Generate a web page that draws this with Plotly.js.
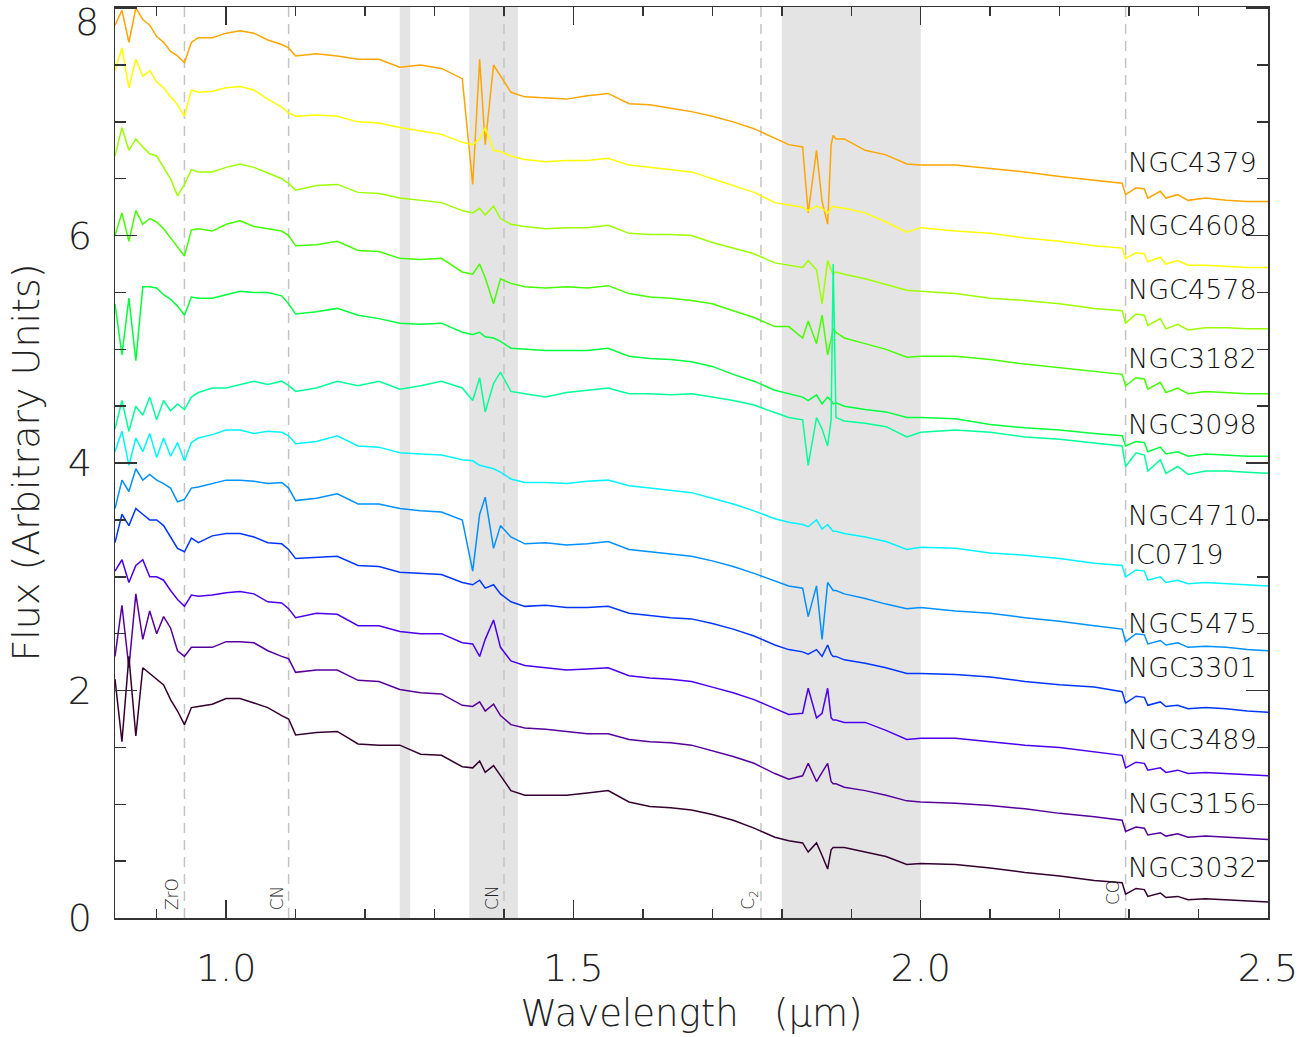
<!DOCTYPE html>
<html>
<head>
<meta charset="utf-8">
<script src="https://cdn.plot.ly/plotly-3.0.1.min.js"></script>
<style>html,body{margin:0;padding:0;background:#fff;}</style>
</head>
<body>
<div id="chart" style="width:1315px;height:1037px;"></div>
<script>
// Wavelength grid (micron)
const wavelength = [
0.84,0.85,0.86,0.87,0.88,0.89,0.90,0.91,0.92,0.93,0.94,0.95,0.96,
0.98,1.00,1.02,1.04,1.06,1.08,1.09,1.10,1.13,1.16,1.19,1.22,1.25,1.28,1.31,1.34,
1.355,1.365,1.373,1.385,1.395,
1.41,1.43,1.46,1.49,1.52,1.55,1.58,1.61,1.64,1.67,1.70,1.73,1.76,1.79,1.81,
1.83,1.838,1.85,1.858,1.866,1.871,1.874,1.878,
1.89,1.92,1.95,1.98,2.00,2.05,2.10,2.15,2.20,2.25,
2.29,2.295,2.31,2.322,2.327,2.345,2.353,2.37,2.385,2.41,2.44,2.47,2.50];

const fluxNGC4379 = [
7.85,7.98,7.70,8.00,7.90,7.85,7.75,7.70,7.62,7.58,7.52,7.70,7.74,
7.74,7.78,7.80,7.78,7.72,7.68,7.65,7.58,7.60,7.58,7.55,7.55,7.48,7.50,7.47,7.38,
6.45,7.55,6.80,7.50,7.40,
7.26,7.22,7.21,7.20,7.23,7.25,7.16,7.15,7.12,7.09,7.05,7.00,6.94,6.86,6.80,
6.78,6.20,6.75,6.30,6.10,6.80,6.88,6.85,
6.85,6.75,6.71,6.63,6.62,6.62,6.59,6.56,6.52,6.49,
6.46,6.36,6.42,6.41,6.33,6.39,6.33,6.36,6.31,6.33,6.31,6.30,6.30];
const fluxNGC4608 = [
7.45,7.65,7.30,7.55,7.40,7.45,7.35,7.30,7.22,7.15,7.05,7.28,7.26,
7.27,7.30,7.31,7.28,7.20,7.13,7.08,7.05,7.06,7.05,7.00,6.99,6.95,6.92,6.89,6.82,
6.80,6.85,6.95,6.75,6.74,
6.70,6.67,6.65,6.66,6.66,6.68,6.62,6.60,6.58,6.56,6.50,6.44,6.38,6.29,6.27,
6.25,6.22,6.26,6.24,6.20,6.24,6.26,6.25,
6.24,6.20,6.12,6.03,6.07,6.04,6.02,5.98,5.95,5.91,
5.89,5.80,5.85,5.84,5.77,5.81,5.75,5.78,5.74,5.74,5.73,5.72,5.72];
const fluxNGC4578 = [
6.70,6.95,6.75,6.85,6.78,6.72,6.70,6.60,6.50,6.35,6.45,6.58,6.56,
6.56,6.60,6.63,6.60,6.55,6.50,6.46,6.40,6.44,6.45,6.38,6.37,6.33,6.31,6.29,6.22,
6.20,6.24,6.18,6.26,6.15,
6.10,6.08,6.06,6.07,6.07,6.09,6.02,6.01,6.01,6.00,5.94,5.89,5.84,5.76,5.74,
5.72,5.78,5.70,5.40,5.78,5.70,5.66,5.68,
5.66,5.62,5.57,5.52,5.51,5.49,5.45,5.43,5.40,5.36,
5.34,5.23,5.31,5.30,5.21,5.27,5.18,5.22,5.17,5.19,5.19,5.18,5.18];
const fluxNGC3182 = [
6.00,6.20,5.95,6.22,6.10,6.15,6.12,6.06,5.98,5.90,5.82,6.05,6.06,
6.04,6.10,6.13,6.08,6.06,6.04,6.00,5.91,5.92,5.95,5.87,5.86,5.80,5.79,5.80,5.68,
5.66,5.75,5.63,5.40,5.62,
5.58,5.55,5.54,5.55,5.54,5.56,5.49,5.46,5.45,5.43,5.40,5.34,5.28,5.20,5.20,
5.10,5.25,5.05,5.30,4.95,5.10,5.18,5.15,
5.10,5.05,5.00,4.93,4.94,4.94,4.91,4.87,4.84,4.81,
4.78,4.68,4.75,4.74,4.65,4.71,4.62,4.66,4.61,4.63,4.62,4.61,4.61];
const fluxNGC3098 = [
5.40,4.95,5.45,4.90,5.55,5.55,5.54,5.48,5.44,5.38,5.30,5.46,5.45,
5.45,5.48,5.51,5.50,5.50,5.47,5.40,5.31,5.33,5.36,5.30,5.27,5.23,5.22,5.23,5.15,
5.13,5.15,5.11,5.10,5.07,
5.01,5.00,4.99,4.99,4.99,5.01,4.94,4.92,4.91,4.89,4.85,4.78,4.72,4.64,4.61,
4.58,4.55,4.60,4.52,4.58,4.55,4.52,4.53,
4.50,4.47,4.45,4.40,4.40,4.39,4.34,4.31,4.29,4.26,
4.24,4.15,4.19,4.18,4.10,4.14,4.08,4.10,4.06,4.08,4.07,4.06,4.06];
const fluxNGC4710 = [
4.30,4.55,4.28,4.50,4.42,4.58,4.38,4.55,4.46,4.52,4.47,4.58,4.62,
4.66,4.66,4.69,4.72,4.69,4.72,4.68,4.63,4.66,4.72,4.68,4.72,4.65,4.68,4.72,4.66,
4.55,4.75,4.45,4.70,4.80,
4.63,4.61,4.58,4.62,4.64,4.66,4.61,4.61,4.60,4.61,4.58,4.55,4.51,4.44,4.40,
4.38,3.98,4.40,4.30,4.15,4.38,5.75,4.40,
4.37,4.35,4.32,4.23,4.27,4.29,4.27,4.23,4.21,4.18,
4.15,3.97,4.09,4.07,3.93,4.03,3.91,3.97,3.90,3.93,3.93,3.92,3.91];
const fluxIC0719 = [
4.10,4.28,3.98,4.22,4.10,4.26,4.05,4.22,4.06,4.18,4.02,4.18,4.22,
4.25,4.29,4.29,4.26,4.28,4.27,4.24,4.17,4.19,4.24,4.15,4.14,4.09,4.08,4.07,4.03,
4.02,3.98,3.97,3.95,3.92,
3.86,3.83,3.83,3.82,3.84,3.85,3.80,3.78,3.76,3.74,3.69,3.64,3.58,3.51,3.48,
3.46,3.44,3.50,3.42,3.46,3.42,3.40,3.40,
3.38,3.35,3.31,3.24,3.26,3.25,3.21,3.19,3.16,3.12,
3.10,3.00,3.06,3.05,2.97,3.00,2.95,2.97,2.94,2.95,2.94,2.93,2.92];
const fluxNGC5475 = [
3.60,3.85,3.75,3.95,3.85,3.90,3.85,3.82,3.78,3.66,3.68,3.78,3.79,
3.82,3.85,3.85,3.84,3.82,3.83,3.78,3.67,3.69,3.73,3.64,3.64,3.60,3.58,3.57,3.50,
3.05,3.55,3.70,3.25,3.45,
3.35,3.29,3.30,3.28,3.29,3.31,3.24,3.22,3.20,3.18,3.14,3.09,3.03,2.96,2.92,
2.90,2.65,2.92,2.45,2.95,2.90,2.88,2.88,
2.85,2.81,2.76,2.72,2.73,2.70,2.68,2.64,2.61,2.57,
2.54,2.43,2.50,2.49,2.41,2.44,2.40,2.42,2.38,2.39,2.38,2.36,2.35];
const fluxNGC3301 = [
3.30,3.55,3.45,3.60,3.55,3.50,3.50,3.45,3.35,3.25,3.22,3.34,3.30,
3.36,3.38,3.38,3.35,3.30,3.29,3.24,3.16,3.17,3.18,3.10,3.09,3.04,3.03,3.02,2.95,
2.93,2.97,2.90,2.93,2.85,
2.78,2.74,2.75,2.73,2.73,2.74,2.68,2.66,2.64,2.63,2.59,2.54,2.48,2.40,2.36,
2.34,2.32,2.36,2.30,2.40,2.32,2.30,2.30,
2.27,2.24,2.20,2.15,2.15,2.14,2.12,2.08,2.05,2.03,
1.99,1.89,1.95,1.94,1.87,1.90,1.86,1.87,1.84,1.85,1.84,1.82,1.81];
const fluxNGC3489 = [
3.05,3.15,2.95,3.10,3.15,3.00,3.00,2.97,2.88,2.80,2.74,2.84,2.83,
2.84,2.86,2.87,2.85,2.78,2.77,2.72,2.64,2.68,2.67,2.57,2.57,2.52,2.50,2.50,2.42,
2.41,2.30,2.45,2.62,2.38,
2.26,2.22,2.20,2.18,2.19,2.20,2.13,2.11,2.10,2.08,2.03,1.98,1.92,1.84,1.79,
1.80,2.02,1.76,1.80,2.02,1.76,1.74,1.74,
1.72,1.72,1.65,1.57,1.58,1.58,1.55,1.52,1.50,1.46,
1.43,1.32,1.37,1.36,1.30,1.32,1.28,1.30,1.27,1.28,1.27,1.26,1.25];
const fluxNGC3156 = [
2.30,2.75,2.20,2.85,2.45,2.70,2.50,2.65,2.55,2.35,2.30,2.38,2.38,
2.38,2.43,2.43,2.42,2.35,2.30,2.28,2.16,2.18,2.18,2.09,2.08,2.01,1.98,1.97,1.87,
1.86,1.90,1.82,1.88,1.78,
1.70,1.67,1.66,1.64,1.62,1.62,1.57,1.55,1.54,1.52,1.47,1.42,1.36,1.27,1.22,
1.25,1.36,1.20,1.28,1.36,1.20,1.18,1.18,
1.15,1.12,1.08,1.03,1.02,1.01,0.99,0.96,0.92,0.89,
0.86,0.76,0.80,0.79,0.73,0.75,0.72,0.74,0.71,0.72,0.71,0.70,0.69];
const fluxNGC3032 = [
2.10,1.55,2.30,1.60,2.20,2.15,2.10,2.05,1.92,1.82,1.70,1.85,1.86,
1.88,1.93,1.93,1.89,1.85,1.78,1.75,1.61,1.63,1.64,1.53,1.52,1.52,1.44,1.43,1.33,
1.32,1.38,1.28,1.34,1.25,
1.12,1.08,1.08,1.08,1.10,1.12,1.02,0.98,0.97,0.95,0.91,0.86,0.79,0.71,0.68,
0.66,0.58,0.66,0.55,0.43,0.60,0.62,0.62,
0.62,0.58,0.54,0.47,0.48,0.47,0.44,0.40,0.37,0.33,
0.31,0.21,0.26,0.25,0.19,0.22,0.18,0.19,0.16,0.17,0.16,0.15,0.14];

const galaxyNames = ['NGC4379','NGC4608','NGC4578','NGC3182','NGC3098','NGC4710',
                     'IC0719','NGC5475','NGC3301','NGC3489','NGC3156','NGC3032'];
const galaxyFlux = [fluxNGC4379,fluxNGC4608,fluxNGC4578,fluxNGC3182,fluxNGC3098,fluxNGC4710,
                    fluxIC0719,fluxNGC5475,fluxNGC3301,fluxNGC3489,fluxNGC3156,fluxNGC3032];
const galaxyColors = ['#ffa500','#ffff00','#9cff00','#44ff00','#00ff3c','#00ff96',
                      '#00f4ff','#0090ff','#0036ff','#4a00ee','#56009c','#330030'];
// label positions (flux units, centre of the text)
const labelY = [6.64,6.09,5.53,4.92,4.34,3.54,3.20,2.59,2.20,1.57,1.01,0.44];

// y tick labels
const yTickVals = [0,2,4,6,8];
const yTickText = ['0','2','4','6','8'];

// shaded telluric regions (micron)
const bandStart = [1.25,1.35,1.80];
const bandEnd   = [1.265,1.42,2.00];
// marked features
const featureNames = ['ZrO','CN','CN','C<sub>2</sub>','CO'];
const featureLines = [0.94,1.09,1.40,1.77,2.295];
const featureLabelX = [0.922,1.073,1.382,1.754,2.277];
const featureLabelY = [0.21,0.18,0.18,0.16,0.22];

const FONT = 'DejaVu Sans';
const TICKFONT = {family:FONT, size:38, color:'#222', weight:200};

const traces = galaxyNames.map((n,i)=>({
  type:'scatter', mode:'lines', name:n,
  x: wavelength, y: galaxyFlux[i],
  line:{color:galaxyColors[i], width:1.5},
  hoverinfo:'skip'
}));

const shapes = [];
bandStart.forEach((b,i)=>shapes.push({type:'rect', layer:'below', xref:'x', yref:'paper',
  x0:b, x1:bandEnd[i], y0:0, y1:1, fillcolor:'#e4e4e4', line:{width:0}}));
featureLines.forEach(v=>shapes.push({type:'line', layer:'below', xref:'x', yref:'paper',
  x0:v, x1:v, y0:0, y1:1, line:{color:'#c4c4c4', width:1.5, dash:'10px,7px'}}));

const annotations = [];
galaxyNames.forEach((n,i)=>annotations.push({xref:'x', yref:'y', x:2.296, y:labelY[i],
  text:n, showarrow:false, xanchor:'left', yanchor:'middle',
  font:{family:FONT, size:27, color:'#111', weight:200}}));
featureNames.forEach((n,i)=>annotations.push({xref:'x', yref:'y', x:featureLabelX[i], y:featureLabelY[i],
  text:n, showarrow:false, textangle:-90, xanchor:'center', yanchor:'middle',
  font:{family:FONT, size:17, color:'#222', weight:200}}));
// top tick label, drawn inside the page (the axis label at the very top edge would be cut off)
annotations.push({xref:'paper', yref:'y', x:0, xshift:-14, y:7.88, xanchor:'right', yanchor:'middle',
  text:yTickText[4], showarrow:false, font:TICKFONT});

const axisCommon = {
  showline:true, linecolor:'#333', linewidth:1.5, mirror:'ticks',
  ticks:'inside', tickcolor:'#333', tickwidth:1.5,
  showgrid:false, zeroline:false, automargin:false,
  tickfont:TICKFONT
};

const layout = {
  width:1315, height:1037,
  margin:{l:115, r:47, t:7, b:119, pad:0},
  paper_bgcolor:'#ffffff', plot_bgcolor:'#ffffff',
  showlegend:false,
  font:{family:FONT, color:'#222'},
  xaxis:Object.assign({}, axisCommon, {
    range:[0.84,2.5], tickmode:'linear', tick0:1.0, dtick:0.5, tickformat:'.1f',
    ticklen:18, ticklabelstandoff:16,
    minor:{dtick:0.1, ticks:'inside', ticklen:9, tickcolor:'#333', tickwidth:1.5},
    title:{text:'Wavelength\u00a0\u00a0\u00a0(\u03bcm)', font:{family:FONT, size:37, color:'#222', weight:200}, standoff:11}
  }),
  yaxis:Object.assign({}, axisCommon, {
    range:[0,8.01], tickmode:'array', tickvals:yTickVals,
    ticktext:yTickText.slice(0,4).concat(['\u200b']),
    ticklen:22, ticklabelstandoff:14,
    minor:{dtick:0.5, ticks:'inside', ticklen:11, tickcolor:'#333', tickwidth:1.5},
    title:{text:'Flux (Arbitrary Units)', font:{family:FONT, size:38, color:'#222', weight:200}, standoff:16}
  }),
  shapes:shapes,
  annotations:annotations
};

Plotly.newPlot('chart', traces, layout, {displayModeBar:false, staticPlot:true});
</script>
</body>
</html>
